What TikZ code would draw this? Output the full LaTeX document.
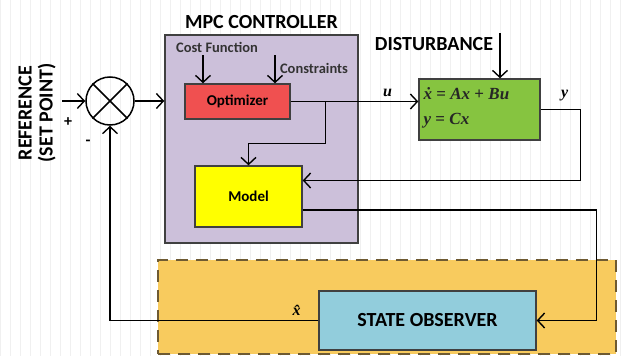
\documentclass[tikz,border=0pt]{standalone}
\usepackage{fontspec}
\setmainfont{Carlito}
\newfontfamily\eqfont{Liberation Serif}
\usetikzlibrary{arrows.meta,positioning}

\definecolor{ctrlpurple}{HTML}{CCC0DA}
\definecolor{optred}{HTML}{F05050}
\definecolor{plantgreen}{HTML}{86C440}
\definecolor{modelyellow}{HTML}{FFFF00}
\definecolor{obsblue}{HTML}{92CDDC}
\definecolor{obsorange}{HTML}{F8CB5E}
\definecolor{dashbrown}{HTML}{6E5A32}

\begin{document}
\begin{tikzpicture}[x=1pt,y=-1pt,->,>={Straight Barb[length=7pt,width=15pt]},line width=1.4pt,
    block/.style={draw=black!75,line width=1.4pt,inner sep=0pt,font=\bfseries},
    caption/.style={font=\bfseries\fontsize{20}{22}\selectfont,inner sep=1pt},
    small label/.style={font=\bfseries\fontsize{14.5}{16}\selectfont,text=black!80,inner sep=1pt},
    sig label/.style={font=\eqfont\bfseries\itshape\fontsize{16}{18}\selectfont,inner sep=1pt},
    eq label/.style={font=\eqfont\bfseries\itshape\fontsize{17}{19}\selectfont,text=black!85,
                     inner sep=1pt,anchor=west}]

  \useasboundingbox (0,0) rectangle (622,356);
  \draw[-,gray!12,line width=0.4pt,step=10] (0,0) grid (622,356);

  % controller and observer frames
  \node[block,fill=ctrlpurple,minimum width=193,minimum height=208] (mpc) at (261.5,139) {};
  \node[caption] (mpctitle) [above=4pt of mpc] {MPC CONTROLLER};
  \node[block,fill=obsorange,draw=dashbrown,dash pattern=on 12pt off 8pt,
        minimum width=458,minimum height=94] (frame) at (387,307) {};

  \node[block,fill=optred,minimum width=105,minimum height=35,
        font=\bfseries\fontsize{15}{17}\selectfont] (opt) at (237.5,101.5) {Optimizer};
  \node[block,fill=modelyellow,minimum width=107,minimum height=61,
        font=\bfseries\fontsize{15}{17}\selectfont] (model) at (248.5,196.5) {Model};
  \node[block,fill=plantgreen,minimum width=121,minimum height=61] (plant) at (479.5,109.5) {};
  \node[block,fill=obsblue,minimum width=217,minimum height=59,
        font=\bfseries\fontsize{20}{22}\selectfont] (obs) at (427.5,320.5) {STATE OBSERVER};
  \node[circle,draw=black,line width=1.5pt,minimum size=48,inner sep=0pt] (sum) at (110,101) {};
  \draw[-,line width=1.5pt] (sum.north west) -- (sum.south east) (sum.north east) -- (sum.south west);

  % texts
  \node[small label] (cost) at (217,47) {Cost Function};
  \node[small label] (cons) at (314,68) {Constraints};
  \node[caption] (dist) at (434,44) {DISTURBANCE};
  \node[caption,rotate=90,align=center,font=\bfseries\fontsize{20}{21}\selectfont] (ref) at (37,113)
       {REFERENCE\\(SET POINT)};
  \node[eq label] (eq1) at (422,94) {ẋ {\upshape=} Ax {\upshape+} Bu};
  \node[eq label] (eq2) at (422,121) {y {\upshape=} Cx};
  \node[font=\bfseries\fontsize{16}{18}\selectfont] (plus) at (68,122) {+};
  \node[font=\bfseries\fontsize{16}{18}\selectfont] (minus) at (88,143) {-};

  \coordinate (refin) at (62,101);
  \coordinate (costin) at (203,55);
  \coordinate (consin) at (275,55);
  \coordinate (distin) at (500,33);

  % connectors
  \draw (refin) -- (sum.west);
  \draw (sum.east) -- (sum -| mpc.west);
  \draw (costin) -- (costin |- opt.north);
  \draw (consin) -- (consin |- opt.north);
  \draw (distin) -- (distin |- plant.north);
  \draw (opt.east) -- (opt.east -| plant.west) node[sig label,pos=0.76,above=3pt] {u};
  \draw (opt.east) ++(35,0) -- ++(0,42) -| (model.north);
  \draw (plant.east) -- ++(40,0) node[sig label,pos=0.6,above=7pt] {y} |- ([yshift=16pt]model.east);
  \draw ([yshift=-13.5pt]model.east) -- ++(294,0) |- (obs.east);
  \draw (obs.west) node[sig label,above left=3pt and 16pt] {x̂} -| (sum.south);
\end{tikzpicture}
\end{document}
